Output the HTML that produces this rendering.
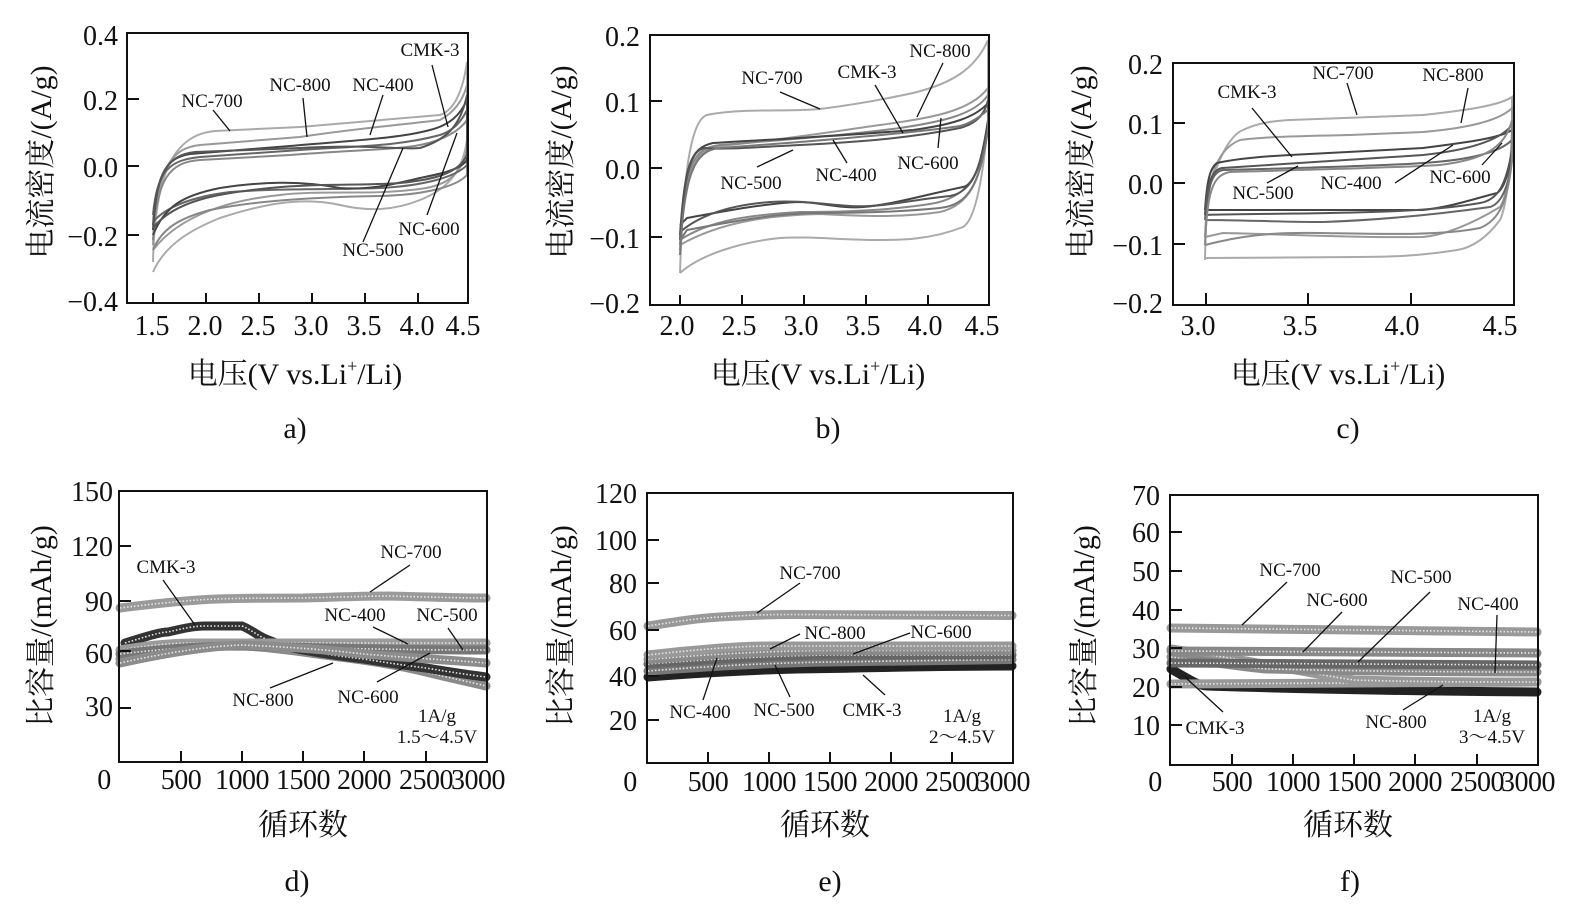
<!DOCTYPE html>
<html><head><meta charset="utf-8"><style>
html,body{margin:0;padding:0;background:#fff;}
svg{display:block;}
.t{font-family:"Liberation Serif","Noto Serif CJK SC",serif;fill:#111;}
.tk{font-size:28px;}
.lb{font-size:19px;}
.ax{font-size:30px;}
.box{fill:none;stroke:#111;stroke-width:2;}
.tick{stroke:#111;stroke-width:2;}
.ld{stroke:#111;stroke-width:1.3;fill:none;}
.cv{fill:none;stroke-width:2;}
.bd{fill:none;stroke-width:9;stroke-linecap:round;}
.dt{fill:none;stroke:#e6e6e6;stroke-width:1.6;stroke-dasharray:1.5 2;}
</style></head><body>
<svg width="1577" height="910" viewBox="0 0 1577 910" xmlns="http://www.w3.org/2000/svg">

<!-- ============ PANEL A ============ -->
<g>
<path class="cv" stroke="#aaa" d="M153,262 C155,180 170,135 215,131 L300,127 C360,122 410,118 440,115 C455,110 463,90 467,62 L467,140 C462,175 445,190 420,200 C395,210 370,212 340,205 C300,196 260,205 220,218 C190,230 165,245 153,272"/>
<path class="cv" stroke="#999" d="M153,245 C156,170 170,148 200,145 L300,137 C360,128 400,125 440,120 C455,112 463,100 467,85 L467,150 C460,180 440,188 410,190 C370,195 320,190 280,195 C230,200 180,215 153,250"/>
<path class="cv" stroke="#888" d="M153,240 C156,178 170,162 200,160 L290,155 C350,150 395,150 420,145 C445,140 460,130 467,120 L467,175 C455,188 420,195 380,196 C320,197 260,200 210,210 C180,218 162,228 153,250"/>
<path class="cv" stroke="#666" d="M153,215 C157,170 170,160 200,157 L300,150 C360,146 400,146 440,135 C455,130 462,120 467,110 L467,165 C455,178 420,186 380,188 C330,190 280,188 230,192 C190,197 165,208 153,222"/>
<path class="cv" stroke="#444" d="M153,230 C156,175 165,158 190,154 L290,146 C360,140 400,138 430,130 C450,125 460,115 467,100 L467,160 C460,170 440,174 420,178 C390,185 370,190 340,188 C300,180 260,182 220,188 C185,195 165,205 153,235"/>
<path class="cv" stroke="#555" d="M153,225 C156,172 168,155 195,152 L300,148 C370,144 400,150 420,148 C445,140 460,128 467,95 L467,155 C458,175 430,180 400,183 C360,186 320,183 270,188 C220,193 175,200 153,228"/>
<rect class="box" x="127" y="33" width="341" height="270"/>
<g class="tick">
<line x1="127" y1="99" x2="139" y2="99"/><line x1="127" y1="166" x2="139" y2="166"/><line x1="127" y1="235" x2="139" y2="235"/>
<line x1="153" y1="303" x2="153" y2="293"/><line x1="206" y1="303" x2="206" y2="293"/><line x1="259" y1="303" x2="259" y2="293"/><line x1="312" y1="303" x2="312" y2="293"/><line x1="365" y1="303" x2="365" y2="293"/><line x1="418" y1="303" x2="418" y2="293"/>
</g>
<g class="t tk" text-anchor="end">
<text x="118" y="45">0.4</text><text x="118" y="110">0.2</text><text x="118" y="177">0.0</text><text x="118" y="246">−0.2</text><text x="118" y="311">−0.4</text>
</g>
<g class="t tk" text-anchor="middle">
<text x="152" y="335">1.5</text><text x="205" y="335">2.0</text><text x="258" y="335">2.5</text><text x="311" y="335">3.0</text><text x="364" y="335">3.5</text><text x="417" y="335">4.0</text><text x="463" y="335">4.5</text>
</g>
<g class="t lb" text-anchor="middle">
<text x="430" y="56">CMK-3</text><text x="300" y="91">NC-800</text><text x="383" y="91">NC-400</text><text x="212" y="107">NC-700</text><text x="373" y="256">NC-500</text><text x="429" y="235">NC-600</text>
</g>
<g class="ld"><line x1="432" y1="65" x2="448" y2="127"/><line x1="303" y1="98" x2="307" y2="137"/><line x1="383" y1="95" x2="370" y2="135"/><line x1="213" y1="110" x2="230" y2="131"/><line x1="363" y1="242" x2="403" y2="148"/><line x1="427" y1="215" x2="457" y2="133"/></g>
<text class="t ax" transform="translate(51,162) rotate(-90)" text-anchor="middle">电流密度/(A/g)</text>
<text class="t ax" x="295" y="384" text-anchor="middle">电压(V vs.Li<tspan font-size="18" dy="-12">+</tspan><tspan dy="12">/Li)</tspan></text>
<text class="t ax" x="295" y="438" text-anchor="middle">a)</text>
</g>

<!-- ============ PANEL B ============ -->
<g>
<path class="cv" stroke="#aaa" d="M680,273 C683,180 690,120 707,115 C740,108 790,112 820,109 C860,104 890,98 913,93 C950,84 975,70 988,40 L988,120 C983,180 975,220 963,227 C930,240 900,240 880,240 C840,240 810,236 780,238 C740,242 700,255 680,273"/>
<path class="cv" stroke="#999" d="M680,250 C684,170 692,150 720,146 C780,140 830,132 880,125 C930,118 970,112 988,88 L988,125 C982,180 970,205 940,212 C900,218 860,216 820,214 C770,215 720,222 680,245"/>
<path class="cv" stroke="#888" d="M680,245 C684,160 695,148 720,145 C780,140 840,136 900,128 C940,122 975,115 988,95 L988,125 C982,175 968,198 930,204 C890,210 850,212 800,212 C750,215 710,220 680,240"/>
<path class="cv" stroke="#444" d="M680,235 C685,165 690,148 713,143 C760,140 790,139 813,137 C860,134 890,132 913,130 C950,125 975,118 988,103 L988,120 C982,160 975,185 963,187 C920,196 890,205 863,207 C840,209 820,202 797,202 C760,204 720,212 687,218 L680,225"/>
<path class="cv" stroke="#555" d="M680,240 C684,170 692,148 706,148 C720,150 760,147 800,145 C860,142 910,138 960,128 C975,124 985,115 988,100 L988,125 C980,175 970,192 950,196 C910,200 880,208 850,206 C820,204 800,200 770,202 C730,205 700,215 680,232"/>
<path class="cv" stroke="#777" d="M680,255 C684,175 694,150 720,148 L800,142 C860,137 920,132 960,126 C975,122 985,112 988,110 L988,130 C980,185 968,205 940,208 C900,212 860,213 820,213 C780,213 740,220 687,230 L680,240"/>
<rect class="box" x="650" y="35" width="339" height="270"/>
<g class="tick">
<line x1="650" y1="101" x2="662" y2="101"/><line x1="650" y1="168" x2="662" y2="168"/><line x1="650" y1="237" x2="662" y2="237"/>
<line x1="680" y1="305" x2="680" y2="295"/><line x1="742" y1="305" x2="742" y2="295"/><line x1="804" y1="305" x2="804" y2="295"/><line x1="866" y1="305" x2="866" y2="295"/><line x1="928" y1="305" x2="928" y2="295"/>
</g>
<g class="t tk" text-anchor="end">
<text x="640" y="46">0.2</text><text x="640" y="112">0.1</text><text x="640" y="179">0.0</text><text x="640" y="248">−0.1</text><text x="640" y="313">−0.2</text>
</g>
<g class="t tk" text-anchor="middle">
<text x="677" y="335">2.0</text><text x="739" y="335">2.5</text><text x="801" y="335">3.0</text><text x="863" y="335">3.5</text><text x="925" y="335">4.0</text><text x="982" y="335">4.5</text>
</g>
<g class="t lb" text-anchor="middle">
<text x="940" y="57">NC-800</text><text x="867" y="78">CMK-3</text><text x="772" y="84">NC-700</text><text x="751" y="189">NC-500</text><text x="846" y="181">NC-400</text><text x="928" y="169">NC-600</text>
</g>
<g class="ld"><line x1="943" y1="63" x2="917" y2="117"/><line x1="875" y1="85" x2="903" y2="133"/><line x1="780" y1="92" x2="820" y2="109"/><line x1="757" y1="167" x2="793" y2="150"/><line x1="847" y1="163" x2="833" y2="140"/><line x1="938" y1="148" x2="941" y2="118"/></g>
<text class="t ax" transform="translate(571,162) rotate(-90)" text-anchor="middle">电流密度/(A/g)</text>
<text class="t ax" x="818" y="384" text-anchor="middle">电压(V vs.Li<tspan font-size="18" dy="-12">+</tspan><tspan dy="12">/Li)</tspan></text>
<text class="t ax" x="828" y="438" text-anchor="middle">b)</text>
</g>

<!-- ============ PANEL C ============ -->
<g>
<path class="cv" stroke="#aaa" d="M1205,260 C1206,200 1210,175 1217,167 C1225,145 1235,133 1243,130 C1260,122 1275,121 1290,120 L1423,115 C1470,110 1500,105 1512,97 L1512,130 C1510,180 1505,210 1500,220 C1485,240 1470,248 1457,250 C1420,256 1390,257 1357,257 L1205,258"/>
<path class="cv" stroke="#999" d="M1205,237 C1207,180 1215,150 1240,140 C1260,137 1300,136 1350,135 L1423,132 C1470,128 1500,120 1512,108 L1512,140 C1510,180 1505,200 1500,207 C1470,225 1445,235 1423,237 C1350,238 1280,234 1223,233 L1205,237"/>
<path class="cv" stroke="#444" d="M1205,210 C1207,180 1210,168 1217,163 C1240,158 1270,156 1290,155 L1423,148 C1470,142 1500,138 1512,130 L1512,150 C1508,180 1502,190 1497,193 C1470,200 1450,207 1423,210 L1205,210"/>
<path class="cv" stroke="#666" d="M1205,220 C1208,185 1212,172 1223,170 C1300,168 1380,166 1423,163 C1470,160 1500,152 1512,140 L1512,160 C1508,190 1500,204 1490,207 C1440,214 1380,220 1323,222 C1280,222 1240,220 1205,220"/>
<path class="cv" stroke="#555" d="M1205,215 C1207,182 1212,170 1222,168 C1260,165 1350,160 1423,155 C1470,150 1500,140 1512,125 L1512,150 C1506,185 1498,200 1480,203 C1440,210 1390,212 1330,213 C1280,214 1240,214 1205,215"/>
<path class="cv" stroke="#888" d="M1205,245 C1207,190 1213,175 1230,172 C1300,170 1390,168 1440,165 C1480,160 1505,150 1512,120 L1512,160 C1508,200 1500,220 1480,228 C1440,236 1380,234 1320,233 C1270,232 1240,236 1205,245"/>
<rect class="box" x="1173" y="63" width="341" height="242"/>
<g class="tick">
<line x1="1173" y1="123" x2="1185" y2="123"/><line x1="1173" y1="183" x2="1185" y2="183"/><line x1="1173" y1="244" x2="1185" y2="244"/>
<line x1="1206" y1="305" x2="1206" y2="293"/><line x1="1308" y1="305" x2="1308" y2="293"/><line x1="1411" y1="305" x2="1411" y2="293"/>
</g>
<g class="t tk" text-anchor="end">
<text x="1163" y="74">0.2</text><text x="1163" y="134">0.1</text><text x="1163" y="194">0.0</text><text x="1163" y="255">−0.1</text><text x="1163" y="313">−0.2</text>
</g>
<g class="t tk" text-anchor="middle">
<text x="1198" y="335">3.0</text><text x="1300" y="335">3.5</text><text x="1402" y="335">4.0</text><text x="1500" y="335">4.5</text>
</g>
<g class="t lb" text-anchor="middle">
<text x="1343" y="79">NC-700</text><text x="1453" y="81">NC-800</text><text x="1247" y="98">CMK-3</text><text x="1263" y="199">NC-500</text><text x="1351" y="189">NC-400</text><text x="1460" y="183">NC-600</text>
</g>
<g class="ld"><line x1="1347" y1="83" x2="1357" y2="115"/><line x1="1468" y1="88" x2="1461" y2="123"/><line x1="1252" y1="108" x2="1292" y2="157"/><line x1="1267" y1="183" x2="1298" y2="166"/><line x1="1395" y1="183" x2="1453" y2="145"/><line x1="1482" y1="165" x2="1502" y2="143"/></g>
<text class="t ax" transform="translate(1091,162) rotate(-90)" text-anchor="middle">电流密度/(A/g)</text>
<text class="t ax" x="1338" y="384" text-anchor="middle">电压(V vs.Li<tspan font-size="18" dy="-12">+</tspan><tspan dy="12">/Li)</tspan></text>
<text class="t ax" x="1348" y="438" text-anchor="middle">c)</text>
</g>

<!-- ============ PANEL D ============ -->
<g>
<g>
<path class="bd" stroke="#8a8a8a" d="M120,659 C170,650 200,645 217,645 C260,645 300,652 340,657 C380,662 410,668 426,672 C450,678 470,682 486,686"/>
<path class="dt" d="M120,659 C170,650 200,645 217,645 C260,645 300,652 340,657 C380,662 410,668 426,672 C450,678 470,682 486,686"/>
<path class="bd" stroke="#333" d="M125,643 C145,637 160,632 168,632 C185,628 195,626 205,626 L242,626 C252,630 258,636 266,639 C280,645 290,648 303,650 C330,655 345,657 364,659 C395,664 410,666 426,668 C450,672 470,675 486,677"/>
<path class="dt" stroke="#bbb" d="M125,643 C145,637 160,632 168,632 C185,628 195,626 205,626 L242,626 C252,630 258,636 266,639 C280,645 290,648 303,650 C330,655 345,657 364,659 C395,664 410,666 426,668 C450,672 470,675 486,677"/>
<path class="bd" stroke="#9a9a9a" d="M120,650 C150,645 175,643 193,643 L486,643"/>
<path class="dt" d="M120,650 C150,645 175,643 193,643 L486,643"/>
<path class="bd" stroke="#777" d="M120,654 C170,648 210,646 242,646 C320,648 400,650 486,650"/>
<path class="dt" d="M120,654 C170,648 210,646 242,646 C320,648 400,650 486,650"/>
<path class="bd" stroke="#8c8c8c" d="M120,663 C170,652 210,646 242,645 C290,647 330,650 364,654 C410,658 450,660 486,663"/>
<path class="dt" d="M120,663 C170,652 210,646 242,645 C290,647 330,650 364,654 C410,658 450,660 486,663"/>
<path class="bd" stroke="#9a9a9a" d="M120,608 C160,603 190,600 217,599 C250,598 280,598 303,598 C340,597 370,596 389,596 C430,597 460,598 486,598"/>
<path class="dt" d="M120,608 C160,603 190,600 217,599 C250,598 280,598 303,598 C340,597 370,596 389,596 C430,597 460,598 486,598"/>
</g>
<rect class="box" x="119" y="491" width="368" height="271"/>
<g class="tick">
<line x1="119" y1="546" x2="131" y2="546"/><line x1="119" y1="601" x2="131" y2="601"/><line x1="119" y1="651" x2="131" y2="651"/><line x1="119" y1="708" x2="131" y2="708"/>
<line x1="181" y1="762" x2="181" y2="751"/><line x1="242" y1="762" x2="242" y2="751"/><line x1="303" y1="762" x2="303" y2="751"/><line x1="364" y1="762" x2="364" y2="751"/><line x1="426" y1="762" x2="426" y2="751"/>
</g>
<g class="t tk" text-anchor="end">
<text x="113" y="501">150</text><text x="113" y="556">120</text><text x="113" y="611">90</text><text x="113" y="663">60</text><text x="113" y="716">30</text>
</g>
<g class="t tk" text-anchor="middle" letter-spacing="-0.5">
<text x="104" y="789">0</text><text x="181" y="789">500</text><text x="242" y="789">1000</text><text x="303" y="789">1500</text><text x="364" y="789">2000</text><text x="426" y="789">2500</text><text x="478" y="789">3000</text>
</g>
<g class="t lb" text-anchor="middle">
<text x="411" y="558">NC-700</text><text x="166" y="573">CMK-3</text><text x="355" y="621">NC-400</text><text x="447" y="621">NC-500</text><text x="263" y="706">NC-800</text><text x="368" y="703">NC-600</text>
<text x="437" y="722">1A/g</text><text x="437" y="743">1.5～4.5V</text>
</g>
<g class="ld"><line x1="410" y1="565" x2="370" y2="592"/><line x1="163" y1="580" x2="195" y2="625"/><line x1="373" y1="627" x2="408" y2="644"/><line x1="448" y1="628" x2="463" y2="650"/><line x1="270" y1="688" x2="333" y2="663"/><line x1="377" y1="682" x2="430" y2="653"/></g>
<text class="t ax" transform="translate(51,626) rotate(-90)" text-anchor="middle">比容量/(mAh/g)</text>
<text class="t ax" x="303" y="835" text-anchor="middle" font-size="31">循环数</text>
<text class="t ax" x="297" y="891" text-anchor="middle">d)</text>
</g>

<!-- ============ PANEL E ============ -->
<g>
<path class="bd" stroke="#222" stroke-width="5" d="M648,677 C700,673 760,669 830,668.5 C900,667 960,666 1012,666"/>
<path class="bd" stroke="#777" d="M648,671 C700,667 760,663 830,662 C900,661 960,660 1012,659.5"/>
<path class="dt" d="M648,671 C700,667 760,663 830,662 C900,661 960,660 1012,659.5"/>
<path class="bd" stroke="#666" d="M648,664 C700,660 760,656 830,655 L1012,655"/>
<path class="dt" stroke="#ccc" d="M648,664 C700,660 760,656 830,655 L1012,655"/>
<path class="bd" stroke="#8a8a8a" d="M648,659.5 C700,655 760,651 830,650.5 L1012,650.5"/>
<path class="dt" d="M648,659.5 C700,655 760,651 830,650.5 L1012,650.5"/>
<path class="bd" stroke="#999" d="M648,655 C690,650 740,646 769,646 L1012,646"/>
<path class="dt" d="M648,655 C690,650 740,646 769,646 L1012,646"/>
<path class="bd" stroke="#999" d="M648,626 C680,621 700,618 720,617 C750,615 770,614.5 793,614.5 L1012,615.5"/>
<path class="dt" d="M648,626 C680,621 700,618 720,617 C750,615 770,614.5 793,614.5 L1012,615.5"/>
<rect class="box" x="647" y="493" width="366" height="270"/>
<g class="tick">
<line x1="647" y1="540" x2="659" y2="540"/><line x1="647" y1="583" x2="659" y2="583"/><line x1="647" y1="630" x2="659" y2="630"/><line x1="647" y1="676" x2="659" y2="676"/><line x1="647" y1="720" x2="659" y2="720"/>
<line x1="708" y1="763" x2="708" y2="752"/><line x1="769" y1="763" x2="769" y2="752"/><line x1="830" y1="763" x2="830" y2="752"/><line x1="891" y1="763" x2="891" y2="752"/><line x1="952" y1="763" x2="952" y2="752"/>
</g>
<g class="t tk" text-anchor="end">
<text x="637" y="503">120</text><text x="637" y="550">100</text><text x="637" y="593">80</text><text x="637" y="640">60</text><text x="637" y="686">40</text><text x="637" y="730">20</text>
</g>
<g class="t tk" text-anchor="middle" letter-spacing="-0.5">
<text x="630" y="791">0</text><text x="708" y="791">500</text><text x="769" y="791">1000</text><text x="830" y="791">1500</text><text x="891" y="791">2000</text><text x="952" y="791">2500</text><text x="1003" y="791">3000</text>
</g>
<g class="t lb" text-anchor="middle">
<text x="810" y="579">NC-700</text><text x="835" y="639">NC-800</text><text x="941" y="638">NC-600</text><text x="700" y="718">NC-400</text><text x="784" y="716">NC-500</text><text x="872" y="716">CMK-3</text>
<text x="962" y="722">1A/g</text><text x="962" y="743">2～4.5V</text>
</g>
<g class="ld"><line x1="800" y1="583" x2="757" y2="613"/><line x1="800" y1="634" x2="770" y2="649"/><line x1="910" y1="633" x2="853" y2="654"/><line x1="703" y1="700" x2="717" y2="658"/><line x1="790" y1="697" x2="775" y2="665"/><line x1="885" y1="695" x2="863" y2="675"/></g>
<text class="t ax" transform="translate(571,626) rotate(-90)" text-anchor="middle">比容量/(mAh/g)</text>
<text class="t ax" x="825" y="835" text-anchor="middle" font-size="31">循环数</text>
<text class="t ax" x="830" y="891" text-anchor="middle">e)</text>
</g>

<!-- ============ PANEL F ============ -->
<g>
<path class="bd" stroke="#222" stroke-width="5" d="M1171,669 C1190,680 1200,686 1207,686 C1300,689 1400,691 1537,692"/>
<path class="bd" stroke="#999" d="M1171,684 L1537,682"/>
<path class="dt" d="M1171,684 L1537,682"/>
<path class="bd" stroke="#999" d="M1171,649 C1250,660 1300,672 1354,680 C1420,682 1480,682 1537,682"/>
<path class="dt" d="M1171,649 C1250,660 1300,672 1354,680 C1420,682 1480,682 1537,682"/>
<path class="bd" stroke="#8a8a8a" d="M1171,657 C1220,663 1250,668 1268,669 C1350,671 1450,672 1537,672"/>
<path class="dt" d="M1171,657 C1220,663 1250,668 1268,669 C1350,671 1450,672 1537,672"/>
<path class="bd" stroke="#666" d="M1171,663 L1537,665"/>
<path class="dt" stroke="#ccc" d="M1171,663 L1537,665"/>
<path class="bd" stroke="#888" d="M1171,651 L1537,653"/>
<path class="dt" d="M1171,651 L1537,653"/>
<path class="bd" stroke="#999" d="M1171,628 L1354,630 L1537,632"/>
<path class="dt" d="M1171,628 L1354,630 L1537,632"/>
<rect class="box" x="1170" y="495" width="368" height="270"/>
<g class="tick">
<line x1="1170" y1="532" x2="1182" y2="532"/><line x1="1170" y1="571" x2="1182" y2="571"/><line x1="1170" y1="610" x2="1182" y2="610"/><line x1="1170" y1="648" x2="1182" y2="648"/><line x1="1170" y1="687" x2="1182" y2="687"/><line x1="1170" y1="725" x2="1182" y2="725"/>
<line x1="1232" y1="765" x2="1232" y2="754"/><line x1="1293" y1="765" x2="1293" y2="754"/><line x1="1354" y1="765" x2="1354" y2="754"/><line x1="1415" y1="765" x2="1415" y2="754"/><line x1="1477" y1="765" x2="1477" y2="754"/>
</g>
<g class="t tk" text-anchor="end">
<text x="1160" y="505">70</text><text x="1160" y="542">60</text><text x="1160" y="581">50</text><text x="1160" y="620">40</text><text x="1160" y="658">30</text><text x="1160" y="697">20</text><text x="1160" y="735">10</text>
</g>
<g class="t tk" text-anchor="middle" letter-spacing="-0.5">
<text x="1155" y="791">0</text><text x="1232" y="791">500</text><text x="1293" y="791">1000</text><text x="1354" y="791">1500</text><text x="1415" y="791">2000</text><text x="1477" y="791">2500</text><text x="1528" y="791">3000</text>
</g>
<g class="t lb" text-anchor="middle">
<text x="1290" y="576">NC-700</text><text x="1337" y="606">NC-600</text><text x="1421" y="583">NC-500</text><text x="1488" y="610">NC-400</text><text x="1396" y="728">NC-800</text><text x="1215" y="734">CMK-3</text>
<text x="1492" y="722">1A/g</text><text x="1492" y="743">3～4.5V</text>
</g>
<g class="ld"><line x1="1287" y1="582" x2="1242" y2="625"/><line x1="1342" y1="612" x2="1303" y2="652"/><line x1="1430" y1="592" x2="1358" y2="662"/><line x1="1497" y1="615" x2="1495" y2="673"/><line x1="1403" y1="710" x2="1443" y2="685"/><line x1="1223" y1="712" x2="1185" y2="677"/></g>
<text class="t ax" transform="translate(1094,626) rotate(-90)" text-anchor="middle">比容量/(mAh/g)</text>
<text class="t ax" x="1348" y="835" text-anchor="middle" font-size="31">循环数</text>
<text class="t ax" x="1350" y="891" text-anchor="middle">f)</text>
</g>

</svg>
</body></html>
